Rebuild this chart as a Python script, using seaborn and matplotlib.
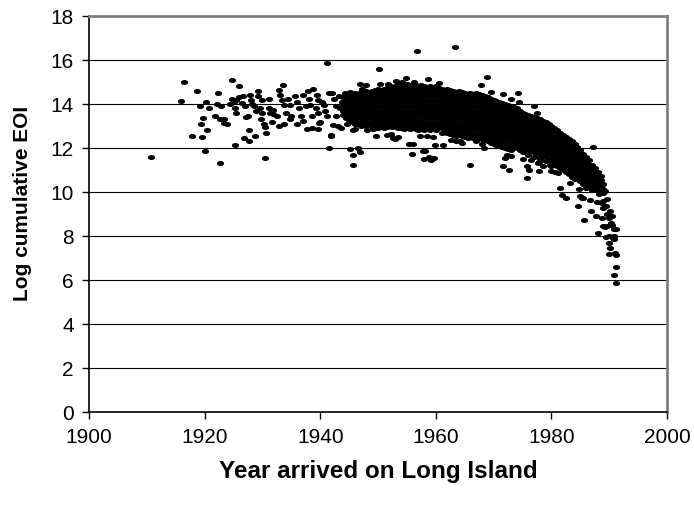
import numpy as np
import pandas as pd
import matplotlib
matplotlib.use("Agg")
import matplotlib.pyplot as plt
import seaborn as sns

# ---------------- data ----------------
early_year = [1910.7, 1915.9, 1916.5, 1917.8, 1918.7, 1919.2, 1919.3, 1919.5, 1919.7, 1920.0,
              1920.3, 1920.4, 1920.7, 1921.8, 1922.1, 1922.3, 1922.6, 1922.7, 1922.9, 1923.3,
              1923.4, 1923.9, 1924.4, 1924.8, 1924.8, 1925.1, 1925.2, 1925.3, 1925.4, 1925.5,
              1925.9, 1926.0, 1926.4, 1926.7, 1926.9, 1927.0, 1927.2, 1927.5, 1927.6, 1927.7,
              1927.9, 1928.0, 1928.2, 1928.5, 1928.8, 1928.9, 1929.2, 1929.3, 1929.6, 1929.9,
              1929.9, 1929.8, 1930.2, 1930.5, 1930.5, 1930.7, 1931.1, 1931.2, 1931.4, 1931.6,
              1931.8, 1931.8, 1932.5, 1932.8, 1932.9, 1933.1, 1933.4, 1933.6, 1933.7, 1933.8,
              1934.0, 1934.5, 1934.7, 1934.8, 1934.9, 1935.7, 1935.9, 1936.0, 1936.3, 1936.6,
              1937.0, 1937.1, 1937.5, 1937.8, 1937.9, 1938.0, 1938.3, 1938.6, 1938.6, 1938.8,
              1939.2, 1939.5, 1939.6, 1939.6, 1939.6, 1939.8, 1940.0, 1940.3, 1940.6, 1940.9,
              1941.1, 1941.2, 1941.5, 1941.5, 1941.8, 1941.9, 1942.1, 1942.2, 1942.4, 1942.7,
              1942.7, 1943.1, 1943.2, 1943.4, 1943.6, 1943.7, 1944.3, 1944.4, 1944.6, 1944.6,
              1944.9, 1945.2]
early_eoi = [11.6, 14.15, 15.0, 12.55, 14.6, 13.9, 13.1, 12.5, 13.35, 11.85,
             14.1, 12.8, 13.8, 13.45, 14.0, 14.5, 13.3, 11.3, 13.9, 13.15,
             13.3, 13.1, 14.0, 15.1, 14.25, 14.1, 12.15, 13.8, 13.6, 14.2,
             14.8, 14.3, 14.05, 14.35, 12.45, 13.9, 13.4, 13.45, 12.8, 12.3,
             14.4, 14.2, 14.0, 13.9, 12.55, 13.7, 14.35, 14.6, 13.8, 14.2,
             13.6, 13.3, 13.1, 12.95, 11.55, 12.7, 14.25, 13.8, 13.6, 13.2,
             13.75, 13.55, 13.45, 13.0, 14.65, 14.4, 14.2, 14.85, 13.95, 13.1,
             13.6, 14.25, 13.3, 13.95, 13.45, 14.35, 13.1, 14.1, 13.8, 13.45,
             14.4, 13.25, 13.9, 12.85, 14.6, 14.25, 13.95, 13.45, 12.9, 14.7,
             13.8, 14.4, 14.2, 13.6, 12.85, 13.15, 13.2, 14.1, 13.95, 13.7,
             15.85, 13.45, 12.0, 14.5, 12.55, 12.6, 14.5, 13.05, 14.25, 13.9,
             13.45, 13.0, 14.35, 13.8, 12.9, 14.1, 14.5, 13.65, 14.25, 13.1,
             13.95, 14.55]

band_year = [1944.0, 1944.5, 1945.0, 1945.5, 1946.0, 1946.5, 1947.0, 1947.5, 1948.0, 1948.5,
             1949.0, 1949.5, 1950.0, 1950.5, 1951.0, 1951.5, 1952.0, 1952.5, 1953.0, 1953.5,
             1954.0, 1954.5, 1955.0, 1955.5, 1956.0, 1956.5, 1957.0, 1957.5, 1958.0, 1958.5,
             1959.0, 1959.5, 1960.0, 1960.5, 1961.0, 1961.5, 1962.0, 1962.5, 1963.0, 1963.5,
             1964.0, 1964.5, 1965.0, 1965.5, 1966.0, 1966.5, 1967.0, 1967.5, 1968.0, 1968.5,
             1969.0, 1969.5, 1970.0, 1970.5, 1971.0, 1971.5, 1972.0, 1972.5, 1973.0, 1973.5,
             1974.0, 1974.5, 1975.0, 1975.5, 1976.0, 1976.5, 1977.0, 1977.5, 1978.0, 1978.5,
             1979.0, 1979.5, 1980.0, 1980.5, 1981.0, 1981.5, 1982.0, 1982.5, 1983.0, 1983.5,
             1984.0, 1984.5, 1985.0, 1985.5, 1986.0, 1986.5, 1987.0, 1987.5, 1988.0, 1988.5,
             1989.0]
band_eoi = [
    [14.3, 14.1, 13.9, 13.7, 13.5],
    [14.35, 14.15, 13.95, 13.75, 13.55, 13.35],
    [14.4, 14.2, 14.0, 13.8, 13.6, 13.4, 13.2],
    [14.45, 14.25, 14.05, 13.85, 13.65, 13.45, 13.25],
    [14.5, 14.3, 14.1, 13.9, 13.7, 13.5, 13.3, 13.1],
    [14.45, 14.25, 14.05, 13.85, 13.65, 13.45, 13.25, 13.1],
    [14.55, 14.35, 14.15, 13.95, 13.75, 13.55, 13.35, 13.15, 13.0],
    [14.5, 14.3, 14.1, 13.9, 13.7, 13.5, 13.3, 13.1],
    [14.6, 14.4, 14.2, 14.0, 13.8, 13.6, 13.4, 13.2, 13.0],
    [14.55, 14.35, 14.15, 13.95, 13.75, 13.55, 13.35, 13.15],
    [14.6, 14.4, 14.2, 14.0, 13.8, 13.6, 13.4, 13.2, 13.0],
    [14.65, 14.45, 14.25, 14.05, 13.85, 13.65, 13.45, 13.25, 13.05],
    [14.7, 14.5, 14.3, 14.1, 13.9, 13.7, 13.5, 13.3, 13.1, 12.9],
    [14.65, 14.45, 14.25, 14.05, 13.85, 13.65, 13.45, 13.25, 13.05],
    [14.7, 14.5, 14.3, 14.1, 13.9, 13.7, 13.5, 13.3, 13.1, 12.9],
    [14.75, 14.55, 14.35, 14.15, 13.95, 13.75, 13.55, 13.35, 13.15, 12.95],
    [14.8, 14.6, 14.4, 14.2, 14.0, 13.8, 13.6, 13.4, 13.2, 13.0],
    [14.75, 14.55, 14.35, 14.15, 13.95, 13.75, 13.55, 13.35, 13.15, 12.95],
    [14.8, 14.6, 14.4, 14.2, 14.0, 13.8, 13.6, 13.4, 13.2, 13.0],
    [14.85, 14.65, 14.45, 14.25, 14.05, 13.85, 13.65, 13.45, 13.25, 13.05, 12.9],
    [14.9, 14.7, 14.5, 14.3, 14.1, 13.9, 13.7, 13.5, 13.3, 13.1, 12.9],
    [14.85, 14.65, 14.45, 14.25, 14.05, 13.85, 13.65, 13.45, 13.25, 13.05, 12.85],
    [14.9, 14.7, 14.5, 14.3, 14.1, 13.9, 13.7, 13.5, 13.3, 13.1, 12.9],
    [14.85, 14.65, 14.45, 14.25, 14.05, 13.85, 13.65, 13.45, 13.25, 13.05, 12.85],
    [14.9, 14.7, 14.5, 14.3, 14.1, 13.9, 13.7, 13.5, 13.3, 13.1, 12.9],
    [14.85, 14.65, 14.45, 14.25, 14.05, 13.85, 13.65, 13.45, 13.25, 13.05, 12.85],
    [14.8, 14.6, 14.4, 14.2, 14.0, 13.8, 13.6, 13.4, 13.2, 13.0, 12.8],
    [14.85, 14.65, 14.45, 14.25, 14.05, 13.85, 13.65, 13.45, 13.25, 13.05, 12.85],
    [14.8, 14.6, 14.4, 14.2, 14.0, 13.8, 13.6, 13.4, 13.2, 13.0, 12.8],
    [14.75, 14.55, 14.35, 14.15, 13.95, 13.75, 13.55, 13.35, 13.15, 12.95],
    [14.8, 14.6, 14.4, 14.2, 14.0, 13.8, 13.6, 13.4, 13.2, 13.0, 12.8],
    [14.75, 14.55, 14.35, 14.15, 13.95, 13.75, 13.55, 13.35, 13.15, 12.95],
    [14.8, 14.6, 14.4, 14.2, 14.0, 13.8, 13.6, 13.4, 13.2, 13.0, 12.8],
    [14.75, 14.55, 14.35, 14.15, 13.95, 13.75, 13.55, 13.35, 13.15, 12.95],
    [14.7, 14.5, 14.3, 14.1, 13.9, 13.7, 13.5, 13.3, 13.1, 12.9, 12.7],
    [14.65, 14.45, 14.25, 14.05, 13.85, 13.65, 13.45, 13.25, 13.05, 12.85],
    [14.7, 14.5, 14.3, 14.1, 13.9, 13.7, 13.5, 13.3, 13.1, 12.9, 12.7],
    [14.65, 14.45, 14.25, 14.05, 13.85, 13.65, 13.45, 13.25, 13.05, 12.85, 12.65],
    [14.6, 14.4, 14.2, 14.0, 13.8, 13.6, 13.4, 13.2, 13.0, 12.8, 12.6],
    [14.55, 14.35, 14.15, 13.95, 13.75, 13.55, 13.35, 13.15, 12.95, 12.75, 12.55],
    [14.6, 14.4, 14.2, 14.0, 13.8, 13.6, 13.4, 13.2, 13.0, 12.8, 12.6],
    [14.55, 14.35, 14.15, 13.95, 13.75, 13.55, 13.35, 13.15, 12.95, 12.75, 12.55],
    [14.5, 14.3, 14.1, 13.9, 13.7, 13.5, 13.3, 13.1, 12.9, 12.7, 12.5],
    [14.45, 14.25, 14.05, 13.85, 13.65, 13.45, 13.25, 13.05, 12.85, 12.65, 12.45],
    [14.5, 14.3, 14.1, 13.9, 13.7, 13.5, 13.3, 13.1, 12.9, 12.7, 12.5],
    [14.45, 14.25, 14.05, 13.85, 13.65, 13.45, 13.25, 13.05, 12.85, 12.65, 12.45],
    [14.5, 14.3, 14.1, 13.9, 13.7, 13.5, 13.3, 13.1, 12.9, 12.7, 12.5, 12.3],
    [14.45, 14.25, 14.05, 13.85, 13.65, 13.45, 13.25, 13.05, 12.85, 12.65, 12.45],
    [14.4, 14.2, 14.0, 13.8, 13.6, 13.4, 13.2, 13.0, 12.8, 12.6, 12.4, 12.2],
    [14.35, 14.15, 13.95, 13.75, 13.55, 13.35, 13.15, 12.95, 12.75, 12.55, 12.35],
    [14.3, 14.1, 13.9, 13.7, 13.5, 13.3, 13.1, 12.9, 12.7, 12.5, 12.3],
    [14.25, 14.05, 13.85, 13.65, 13.45, 13.25, 13.05, 12.85, 12.65, 12.45, 12.25],
    [14.2, 14.0, 13.8, 13.6, 13.4, 13.2, 13.0, 12.8, 12.6, 12.4, 12.2],
    [14.15, 13.95, 13.75, 13.55, 13.35, 13.15, 12.95, 12.75, 12.55, 12.35, 12.15],
    [14.1, 13.9, 13.7, 13.5, 13.3, 13.1, 12.9, 12.7, 12.5, 12.3, 12.1],
    [14.05, 13.85, 13.65, 13.45, 13.25, 13.05, 12.85, 12.65, 12.45, 12.25, 12.05],
    [14.0, 13.8, 13.6, 13.4, 13.2, 13.0, 12.8, 12.6, 12.4, 12.2, 12.0],
    [13.95, 13.75, 13.55, 13.35, 13.15, 12.95, 12.75, 12.55, 12.35, 12.15, 11.95],
    [13.9, 13.7, 13.5, 13.3, 13.1, 12.9, 12.7, 12.5, 12.3, 12.1, 11.9],
    [13.85, 13.65, 13.45, 13.25, 13.05, 12.85, 12.65, 12.45, 12.25, 12.05],
    [13.8, 13.6, 13.4, 13.2, 13.0, 12.8, 12.6, 12.4, 12.2, 12.0],
    [13.7, 13.5, 13.3, 13.1, 12.9, 12.7, 12.5, 12.3, 12.1, 11.9],
    [13.6, 13.4, 13.2, 13.0, 12.8, 12.6, 12.4, 12.2, 12.0, 11.8],
    [13.55, 13.35, 13.15, 12.95, 12.75, 12.55, 12.35, 12.15, 11.95],
    [13.5, 13.3, 13.1, 12.9, 12.7, 12.5, 12.3, 12.1, 11.9, 11.7],
    [13.45, 13.25, 13.05, 12.85, 12.65, 12.45, 12.25, 12.05, 11.85],
    [13.4, 13.2, 13.0, 12.8, 12.6, 12.4, 12.2, 12.0, 11.8, 11.6],
    [13.35, 13.15, 12.95, 12.75, 12.55, 12.35, 12.15, 11.95, 11.75],
    [13.3, 13.1, 12.9, 12.7, 12.5, 12.3, 12.1, 11.9, 11.7, 11.5],
    [13.25, 13.05, 12.85, 12.65, 12.45, 12.25, 12.05, 11.85, 11.65],
    [13.2, 13.0, 12.8, 12.6, 12.4, 12.2, 12.0, 11.8, 11.6, 11.4],
    [13.1, 12.9, 12.7, 12.5, 12.3, 12.1, 11.9, 11.7, 11.5],
    [13.0, 12.8, 12.6, 12.4, 12.2, 12.0, 11.8, 11.6, 11.4, 11.2],
    [12.9, 12.7, 12.5, 12.3, 12.1, 11.9, 11.7, 11.5, 11.3],
    [12.8, 12.6, 12.4, 12.2, 12.0, 11.8, 11.6, 11.4, 11.2],
    [12.7, 12.5, 12.3, 12.1, 11.9, 11.7, 11.5, 11.3, 11.1],
    [12.6, 12.4, 12.2, 12.0, 11.8, 11.6, 11.4, 11.2, 11.0],
    [12.5, 12.3, 12.1, 11.9, 11.7, 11.5, 11.3, 11.1, 10.9],
    [12.4, 12.2, 12.0, 11.8, 11.6, 11.4, 11.2, 11.0, 10.8],
    [12.3, 12.1, 11.9, 11.7, 11.5, 11.3, 11.1, 10.9, 10.7],
    [12.2, 12.0, 11.8, 11.6, 11.4, 11.2, 11.0, 10.8, 10.6],
    [12.05, 11.85, 11.65, 11.45, 11.25, 11.05, 10.85, 10.65],
    [11.9, 11.7, 11.5, 11.3, 11.1, 10.9, 10.7, 10.5],
    [11.75, 11.55, 11.35, 11.15, 10.95, 10.75, 10.55, 10.35],
    [11.6, 11.4, 11.2, 11.0, 10.8, 10.6, 10.4, 10.2],
    [11.45, 11.25, 11.05, 10.85, 10.65, 10.45, 10.25],
    [11.25, 11.05, 10.85, 10.65, 10.45, 10.25, 10.1],
    [11.1, 10.9, 10.7, 10.5, 10.3, 10.1],
    [10.9, 10.7, 10.5, 10.3, 10.1],
    [10.75, 10.55, 10.35, 10.15],
    [10.35, 10.15, 9.95],
]

mid_year = [1945.1, 1945.6, 1945.6, 1945.6, 1946.1, 1946.5, 1946.8, 1946.8, 1947.3, 1948.0,
            1948.1, 1949.2, 1949.7, 1950.1, 1950.4, 1951.5, 1951.8, 1952.2, 1952.6, 1953.0,
            1953.2, 1953.4, 1954.1, 1954.9, 1955.4, 1955.9, 1956.1, 1956.3, 1956.8, 1957.3,
            1957.8, 1958.0, 1958.1, 1958.5, 1958.7, 1958.8, 1959.2, 1959.5, 1959.7, 1959.9,
            1960.5, 1961.2, 1962.6, 1963.3, 1963.5, 1964.2, 1964.6, 1966.0, 1967.9, 1968.4,
            1968.8, 1969.5, 1971.6, 1971.6, 1972.0, 1972.4, 1972.7, 1973.0, 1973.0, 1974.3,
            1974.4, 1975.0, 1975.7, 1975.8, 1976.2, 1976.5, 1977.0, 1977.5, 1977.6, 1977.8,
            1977.8, 1978.6, 1979.8, 1979.9, 1980.6, 1981.2, 1981.5, 1981.8, 1982.6, 1983.3,
            1984.6, 1984.8, 1984.9, 1985.3, 1985.5, 1985.6, 1986.6, 1986.9, 1987.2, 1987.7,
            1987.9, 1988.0, 1988.3, 1988.7, 1988.7, 1989.0]
mid_eoi = [11.95, 11.25, 11.7, 12.8, 12.85, 12.0, 11.8, 14.9, 14.7, 14.85,
           12.8, 12.85, 12.55, 15.58, 14.9, 12.6, 14.9, 12.65, 12.45, 12.4,
           15.03, 12.5, 15.0, 15.17, 12.2, 11.72, 12.2, 15.0, 16.43, 12.55,
           11.88, 11.5, 11.85, 12.55, 15.14, 11.6, 11.45, 12.5, 11.55, 12.15,
           14.95, 12.15, 12.35, 16.59, 12.3, 12.3, 12.25, 11.24, 14.87, 12.0,
           15.23, 14.55, 14.45, 11.17, 11.55, 11.7, 11.0, 11.65, 14.25, 14.5,
           14.07, 11.5, 10.63, 11.2, 11.0, 11.45, 13.93, 13.6, 11.3, 11.35,
           10.95, 11.2, 11.24, 10.95, 10.9, 10.85, 10.2, 9.88, 9.73, 10.4,
           9.35, 10.15, 9.8, 9.75, 9.75, 8.74, 9.65, 9.15, 12.05, 8.9,
           9.55, 8.15, 9.9, 9.5, 8.82, 9.27]

tail_year = [1988.9, 1989.0, 1989.2, 1989.3, 1989.4, 1989.5, 1989.6, 1989.6, 1989.7, 1989.9,
             1989.9, 1990.0, 1990.0, 1990.1, 1990.2, 1990.3, 1990.4, 1990.5, 1990.6, 1990.8,
             1990.8, 1990.9, 1990.9, 1991.0, 1991.1, 1991.1, 1991.1, 1991.2]
tail_eoi = [8.45, 9.6, 8.4, 10.05, 7.95, 9.35, 8.45, 9.0, 9.7, 8.0,
            7.2, 7.7, 8.8, 9.15, 7.45, 8.6, 8.9, 8.5, 7.9, 8.3,
            6.25, 7.85, 8.0, 7.25, 8.3, 7.15, 6.6, 5.87]

x_ticks = [1900, 1920, 1940, 1960, 1980, 2000]
y_ticks = [0, 2, 4, 6, 8, 10, 12, 14, 16, 18]
x_label = "Year arrived on Long Island"
y_label = "Log cumulative EOI"

assert len(band_year) == len(band_eoi)

# ---------------- build table ----------------
years, vals = [], []
years += early_year; vals += early_eoi
for yr, col in zip(band_year, band_eoi):
    years += [yr] * len(col)
    vals += col
years += mid_year; vals += mid_eoi
years += tail_year; vals += tail_eoi
df = pd.DataFrame({"year": years, "eoi": vals})

# ---------------- style ----------------
sns.set_style("white")
plt.rcParams["font.family"] = ["Liberation Sans", "DejaVu Sans"]

fig = plt.figure(figsize=(6.94, 5.06), dpi=100)
ax = fig.add_axes([89 / 694, (506 - 413) / 506, (667 - 89) / 694, (413 - 17) / 506])

for yv in y_ticks[1:-1]:
    ax.axhline(yv, color="black", lw=0.8, zorder=0)

t = np.linspace(0, 2 * np.pi, 25)
ellipse = list(zip(np.cos(t), 0.64 * np.sin(t)))

sns.scatterplot(data=df, x="year", y="eoi", ax=ax, marker=ellipse, s=18,
                color="black", edgecolor="black", linewidth=0.9, zorder=3)

ax.set_xlim(1900, 2000)
ax.set_ylim(0, 18)
ax.set_xticks(x_ticks)
ax.set_yticks(y_ticks)
ax.tick_params(axis="both", direction="out", length=5, width=1, color="black",
               labelsize=15, labelcolor="black")
ax.tick_params(axis="x", pad=6, bottom=True, top=False)
ax.tick_params(axis="y", pad=6, left=True, right=False)

for side in ["left", "bottom"]:
    ax.spines[side].set_color("black")
    ax.spines[side].set_linewidth(1.2)
for side in ["top", "right"]:
    ax.spines[side].set_visible(True)
    ax.spines[side].set_color("#808080")
    ax.spines[side].set_linewidth(2)

ax.set_xlabel(x_label, fontsize=17.5, fontweight="bold", labelpad=9, color="black")
ax.set_ylabel(y_label, fontsize=15, fontweight="bold", color="black")
ax.yaxis.set_label_coords(-0.099, 0.529)
ax.grid(False)

fig.savefig("out.png", dpi=100)
